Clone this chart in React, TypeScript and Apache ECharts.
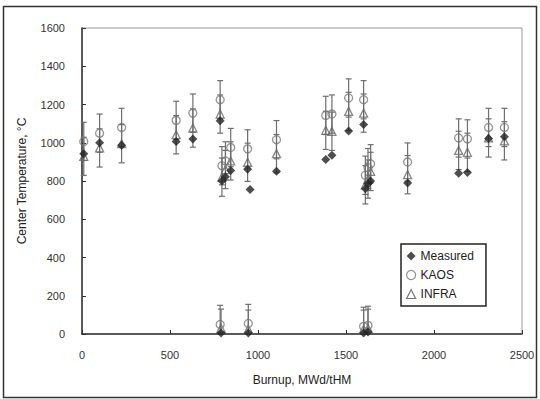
import React, { useEffect, useRef } from "react";
import * as echarts from "echarts";

const xTicks = [0, 500, 1000, 1500, 2000, 2500];
const yTicks = [0, 200, 400, 600, 800, 1000, 1200, 1400, 1600];

const measuredX = [10, 100, 225, 535, 630, 785, 795, 815, 845, 941, 955, 1105, 1385, 1420, 1515, 1600, 1610, 1625, 1640, 1850, 2140, 2190, 2310, 2400, 790, 945, 1600, 1625];
const measuredY = [943, 1000, 987, 1007, 1020, 1115, 800, 822, 855, 862, 755, 851, 912, 935, 1062, 1095, 760, 785, 800, 790, 840, 845, 1022, 1032, 5, 5, 5, 10];

const kaosX = [10, 100, 225, 535, 630, 785, 795, 815, 845, 941, 1105, 1385, 1420, 1515, 1600, 1610, 1625, 1640, 1850, 2140, 2190, 2310, 2400, 785, 945, 1600, 1625];
const kaosY = [1007, 1050, 1080, 1117, 1155, 1225, 880, 905, 975, 968, 1016, 1143, 1150, 1234, 1225, 830, 870, 890, 899, 1025, 1020, 1080, 1080, 50, 55, 40, 45];

const infraX = [10, 100, 225, 535, 630, 785, 795, 815, 845, 941, 1105, 1385, 1420, 1515, 1600, 1610, 1625, 1640, 1850, 2140, 2190, 2310, 2400, 790, 945, 1600, 1625];
const infraY = [929, 973, 995, 1042, 1077, 1150, 820, 860, 905, 898, 943, 1065, 1060, 1164, 1155, 780, 810, 850, 833, 960, 950, 1025, 1010, 30, 25, 25, 30];

const ERR = 100;

const FONT = "Liberation Sans, Arial, sans-serif";

function errItem(params: any, api: any) {
  const x = api.value(0);
  const rawLo = api.value(1);
  const lo = Math.max(0, rawLo);
  const hi = api.value(2);
  const pLo = api.coord([x, lo]);
  const pHi = api.coord([x, hi]);
  const w = 3;
  const style = { stroke: "#6e6e6e", lineWidth: 1.2 };
  const children: any[] = [
    { type: "line", shape: { x1: pHi[0], y1: pHi[1], x2: pLo[0], y2: pLo[1] }, style },
    { type: "line", shape: { x1: pHi[0] - w, y1: pHi[1], x2: pHi[0] + w, y2: pHi[1] }, style },
  ];
  if (rawLo >= 0) {
    children.push({ type: "line", shape: { x1: pLo[0] - w, y1: pLo[1], x2: pLo[0] + w, y2: pLo[1] }, style });
  }
  return { type: "group", children };
}

export default function App() {
  const ref = useRef<HTMLDivElement>(null);
  useEffect(() => {
    if (!ref.current) return;
    const chart = echarts.init(ref.current, null, { renderer: "svg" });
    const kaosData = kaosX.map((x, i) => [x, kaosY[i]]);
    const infraData = infraX.map((x, i) => [x, infraY[i]]);
    const measData = measuredX.map((x, i) => [x, measuredY[i]]);
    const errData = [
      ...kaosX.map((x, i) => [x, kaosY[i] - ERR, kaosY[i] + ERR]),
      ...infraX.map((x, i) => [x, infraY[i] - ERR, infraY[i] + ERR]),
    ];
    chart.setOption({
      animation: false,
      backgroundColor: "#ffffff",
      textStyle: { fontFamily: FONT },
      graphic: [
        {
          type: "rect",
          shape: { x: 3.5, y: 6.5, width: 533, height: 391 },
          style: { fill: "none", stroke: "#333", lineWidth: 1.5 },
          silent: true,
          z: 100,
        },
      ],
      grid: {
        left: 82,
        right: 18,
        top: 28,
        bottom: 65,
        show: true,
        borderColor: "#999",
        borderWidth: 1,
      },
      legend: {
        orient: "vertical",
        left: 401,
        top: 244,
        padding: [6, 12, 6, 5],
        itemGap: 7,
        itemWidth: 9,
        itemHeight: 9,
        borderColor: "#222",
        borderWidth: 1.5,
        backgroundColor: "#fff",
        textStyle: { fontSize: 12, color: "#222", fontFamily: FONT },
        data: [
          { name: "Measured", icon: "diamond", itemStyle: { color: "#222", borderWidth: 0 } },
          { name: "KAOS", icon: "circle", itemStyle: { color: "#fff", borderColor: "#777", borderWidth: 1.2 } },
          { name: "INFRA", icon: "triangle", itemStyle: { color: "#fff", borderColor: "#555", borderWidth: 1.2 } },
        ],
      },
      xAxis: {
        type: "value",
        min: 0,
        max: 2500,
        interval: 500,
        name: "Burnup, MWd/tHM",
        nameLocation: "middle",
        nameGap: 40,
        nameTextStyle: { fontSize: 12, color: "#222", fontFamily: FONT },
        axisLine: { show: true, lineStyle: { color: "#333", width: 1.5 } },
        axisTick: { show: true, inside: true, length: 4, lineStyle: { color: "#333" } },
        axisLabel: {
          fontSize: 11,
          color: "#333",
          margin: 15,
          formatter: (v: number) => (xTicks.includes(v) ? String(v) : ""),
        },
        splitLine: { show: false },
      },
      yAxis: {
        type: "value",
        min: 0,
        max: 1600,
        interval: 200,
        name: "Center Temperature, °C",
        nameLocation: "middle",
        nameGap: 54,
        nameTextStyle: { fontSize: 12, color: "#222", fontFamily: FONT },
        axisLine: { show: true, lineStyle: { color: "#333", width: 1.5 } },
        axisTick: { show: true, inside: true, length: 4, lineStyle: { color: "#333" } },
        axisLabel: {
          fontSize: 11,
          color: "#333",
          margin: 17,
          formatter: (v: number) => (yTicks.includes(v) ? String(v) : ""),
        },
        splitLine: { show: false },
      },
      series: [
        {
          type: "custom",
          name: "err",
          renderItem: errItem,
          data: errData,
          encode: { x: 0, y: [1, 2] },
          z: 1,
          silent: true,
        },
        {
          type: "scatter",
          name: "INFRA",
          data: infraData,
          symbol: "triangle",
          symbolSize: 8,
          itemStyle: { color: "rgba(255,255,255,0)", borderColor: "#666", borderWidth: 1.3 },
          z: 2,
        },
        {
          type: "scatter",
          name: "KAOS",
          data: kaosData,
          symbol: "circle",
          symbolSize: 8,
          itemStyle: { color: "rgba(255,255,255,0)", borderColor: "#777", borderWidth: 1.3 },
          z: 3,
        },
        {
          type: "scatter",
          name: "Measured",
          data: measData,
          symbol: "diamond",
          symbolSize: 9,
          itemStyle: { color: "#222" },
          z: 4,
        },
      ],
    });
    return () => chart.dispose();
  }, []);
  return (
    <div
      ref={ref}
      style={{ position: "fixed", left: 0, top: 0, width: 540, height: 399 }}
    />
  );
}
